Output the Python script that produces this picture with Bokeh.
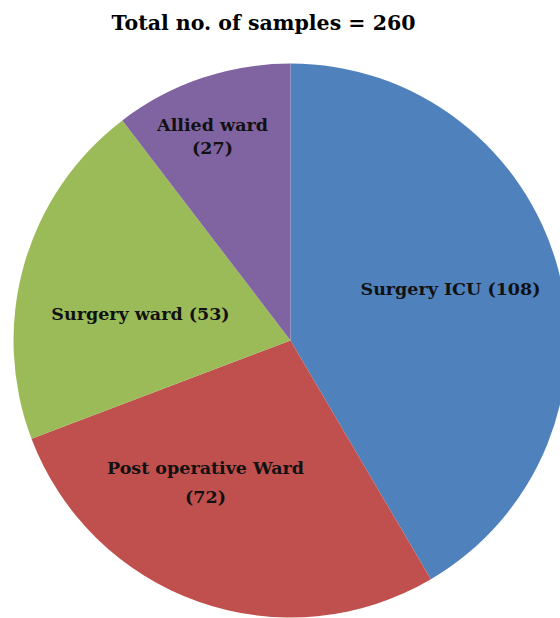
import math
from bokeh.plotting import figure
from bokeh.models import Range1d
from bokeh.core.properties import value
from bokeh.embed import file_html
from bokeh.resources import INLINE

# Data
categories = ["Surgery ICU", "Post operative Ward", "Surgery ward", "Allied ward"]
counts = [108, 72, 53, 27]
colors = ["#4F81BD", "#C0504D", "#9BBB59", "#8064A2"]
title_text = "Total no. of samples = 260"

# Layout
W, H = 560, 618
CX, CY, R = 290, 278, 277
label_lines = [["Surgery ICU (108)"], ["Post operative Ward", "(72)"],
               ["Surgery ward (53)"], ["Allied ward", "(27)"]]
label_pos = [(450, 330), (205, 136), (140, 305), (212, 482)]
line_gap = [0, 29, 0, 23]

p = figure(width=W, height=H, x_range=Range1d(0, W), y_range=Range1d(0, H),
           output_backend="svg", toolbar_location=None, min_border=0)
p.axis.visible = False
p.grid.visible = False
p.outline_line_color = None
p.background_fill_color = "white"
p.border_fill_color = "white"

total = sum(counts)
starts, ends = [], []
cum = 0
for c in counts:
    starts.append(math.pi / 2 - 2 * math.pi * cum / total)
    cum += c
    ends.append(math.pi / 2 - 2 * math.pi * cum / total)

p.wedge(x=[CX] * len(counts), y=[CY] * len(counts), radius=R,
        start_angle=starts, end_angle=ends, direction="clock",
        fill_color=colors, line_color=None)

xs, ys, ts = [], [], []
for lines, (lx, ly), gap in zip(label_lines, label_pos, line_gap):
    n = len(lines)
    for i, t in enumerate(lines):
        xs.append(lx)
        ys.append(ly - (i - (n - 1) / 2) * gap)
        ts.append(t)

p.text(x=xs, y=ys, text=ts, text_align="center", text_baseline="middle",
       text_font=value("DejaVu Serif"), text_font_style="bold",
       text_font_size="17.5px", text_color="#111111")

p.text(x=[263], y=[H - 22], text=[title_text], text_align="center",
       text_baseline="middle", text_font=value("DejaVu Serif"),
       text_font_style="bold", text_font_size="20.5px", text_color="#000000")

open("out.html", "w").write(file_html(p, INLINE))
